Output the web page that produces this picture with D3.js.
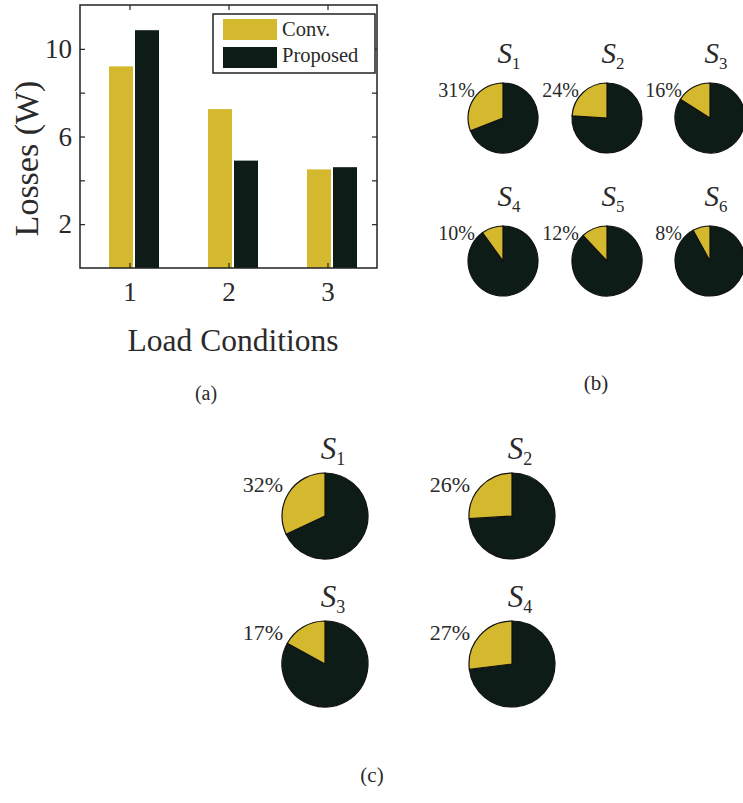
<!DOCTYPE html>
<html>
<head>
<meta charset="utf-8">
<script src="https://cdn.jsdelivr.net/npm/d3@7"></script>
<style>
  body { margin: 0; background: #fff; }
  svg text { font-family: "Liberation Serif", "Times New Roman", serif; fill: #2a2a2a; }
</style>
</head>
<body>
<div id="chart"></div>
<script>
// data
const loadConditions = [1, 2, 3];
const convLosses = [9.2, 7.25, 4.5];
const proposedLosses = [10.85, 4.9, 4.6];
const yTickValues = [2, 4, 6, 8, 10];
const yTickLabels = ["2", "", "6", "", "10"];

const pieNamesB = ["1", "2", "3", "4", "5", "6"];
const pieShareB = [31, 24, 16, 10, 12, 8];
const pieNamesC = ["1", "2", "3", "4"];
const pieShareC = [32, 26, 17, 27];

const YELLOW = "#d4b92e";
const DARK = "#0e1c18";

document.addEventListener("DOMContentLoaded", function () {
    const svg = d3.select("#chart")
        .append("svg")
        .attr("width", 743)
        .attr("height", 803);

    // ---- (a) bar chart ----
    const box = { left: 80, right: 377, top: 5, bottom: 268 };
    const x = d3.scaleLinear().domain([0.5, 3.5]).range([box.left, box.right]);
    const y = d3.scaleLinear().domain([0, 12]).range([box.bottom, box.top]);
    const barW = 24, gap = 2, shift = 4.5;

    const a = svg.append("g");

    a.selectAll("rect.conv")
        .data(convLosses)
        .join("rect")
        .attr("class", "conv")
        .attr("x", (d, i) => x(loadConditions[i]) + shift - gap / 2 - barW)
        .attr("y", d => y(d))
        .attr("width", barW)
        .attr("height", d => y(0) - y(d))
        .attr("fill", YELLOW);

    a.selectAll("rect.prop")
        .data(proposedLosses)
        .join("rect")
        .attr("class", "prop")
        .attr("x", (d, i) => x(loadConditions[i]) + shift + gap / 2)
        .attr("y", d => y(d))
        .attr("width", barW)
        .attr("height", d => y(0) - y(d))
        .attr("fill", DARK);

    // axes with inward ticks, MATLAB style
    const yLeft = d3.axisLeft(y).tickValues(yTickValues).tickSize(-5).tickPadding(8)
        .tickFormat((d, i) => yTickLabels[i]);
    const yRight = d3.axisRight(y).tickValues(yTickValues).tickSize(-5).tickFormat("");
    const xBottom = d3.axisBottom(x).tickValues(loadConditions).tickSize(-5).tickPadding(14)
        .tickFormat(d3.format("d"));
    const xTop = d3.axisTop(x).tickValues(loadConditions).tickSize(-5).tickFormat("");

    const gl = a.append("g").attr("transform", `translate(${box.left},0)`).call(yLeft);
    a.append("g").attr("transform", `translate(${box.right},0)`).call(yRight);
    const gb = a.append("g").attr("transform", `translate(0,${box.bottom})`).call(xBottom);
    a.append("g").attr("transform", `translate(0,${box.top})`).call(xTop);

    a.selectAll(".domain").remove();
    a.selectAll(".tick line").attr("stroke", "#222").attr("stroke-width", 1.2);
    gl.selectAll("text").attr("font-size", 27).attr("font-family", null);
    gb.selectAll("text").attr("font-size", 27).attr("font-family", null);

    a.append("rect")
        .attr("x", box.left).attr("y", box.top)
        .attr("width", box.right - box.left).attr("height", box.bottom - box.top)
        .attr("fill", "none").attr("stroke", "#222").attr("stroke-width", 1.5);

    a.append("text")
        .attr("transform", `translate(38,${(box.top + box.bottom) / 2 + 22}) rotate(-90)`)
        .attr("text-anchor", "middle")
        .attr("font-size", 34)
        .text("Losses (W)");

    a.append("text")
        .attr("x", 233)
        .attr("y", 351)
        .attr("text-anchor", "middle")
        .attr("font-size", 31.5)
        .text("Load Conditions");

    // legend
    const legend = a.append("g");
    legend.append("rect")
        .attr("x", 213).attr("y", 14).attr("width", 162).attr("height", 59)
        .attr("fill", "#fff").attr("stroke", "#222").attr("stroke-width", 1.5);
    const legendItems = [["Conv.", YELLOW], ["Proposed", DARK]];
    legendItems.forEach(([label, color], i) => {
        legend.append("rect")
            .attr("x", 223).attr("y", 19 + i * 28).attr("width", 54).attr("height", 21)
            .attr("fill", color);
        legend.append("text")
            .attr("x", 282).attr("y", 36 + i * 26)
            .attr("font-size", 20.5)
            .text(label);
    });

    a.append("text").attr("x", 206).attr("y", 400)
        .attr("text-anchor", "middle").attr("font-size", 20).text("(a)");

    // ---- pies ----
    const pie = d3.pie().sort(null).value(d => d);

    function drawPie(g, cx, cy, r, name, share, opt) {
        const arc = d3.arc().innerRadius(0).outerRadius(r);
        // yellow slice sits counter-clockwise from 12 o'clock
        const slices = pie([100 - share, share]);
        const pg = g.append("g").attr("transform", `translate(${cx},${cy})`);
        pg.selectAll("path")
            .data(slices)
            .join("path")
            .attr("d", arc)
            .attr("fill", (d, i) => i === 0 ? DARK : YELLOW)
            .attr("stroke", "#111")
            .attr("stroke-width", 1.2);

        const title = pg.append("text")
            .attr("x", opt.titleDx)
            .attr("y", opt.titleY)
            .attr("text-anchor", "middle")
            .attr("font-size", opt.titleSize);
        title.append("tspan").attr("font-style", "italic").text("S");
        title.append("tspan").attr("font-size", opt.titleSize * 0.58).attr("dy", opt.titleSize * 0.2).text(name);

        pg.append("text")
            .attr("x", opt.labelDx)
            .attr("y", opt.labelDy)
            .attr("text-anchor", "end")
            .attr("font-size", opt.labelSize)
            .text(share + "%");
    }

    const b = svg.append("g");
    const bCols = [503, 607, 710], bRows = [118, 261];
    pieShareB.forEach((s, i) => {
        drawPie(b, bCols[i % 3], bRows[Math.floor(i / 3)], 35, pieNamesB[i], s,
            { titleDx: 6, titleY: -55, titleSize: 29, labelDx: -28, labelDy: -21, labelSize: 20 });
    });
    b.append("text").attr("x", 596).attr("y", 390)
        .attr("text-anchor", "middle").attr("font-size", 21).text("(b)");

    const c = svg.append("g");
    const cCols = [325, 512], cRows = [516, 664];
    pieShareC.forEach((s, i) => {
        drawPie(c, cCols[i % 2], cRows[Math.floor(i / 2)], 43, pieNamesC[i], s,
            { titleDx: 8, titleY: -57, titleSize: 31, labelDx: -42, labelDy: -24, labelSize: 22 });
    });
    c.append("text").attr("x", 372).attr("y", 782)
        .attr("text-anchor", "middle").attr("font-size", 21).text("(c)");
});
</script>
</body>
</html>
